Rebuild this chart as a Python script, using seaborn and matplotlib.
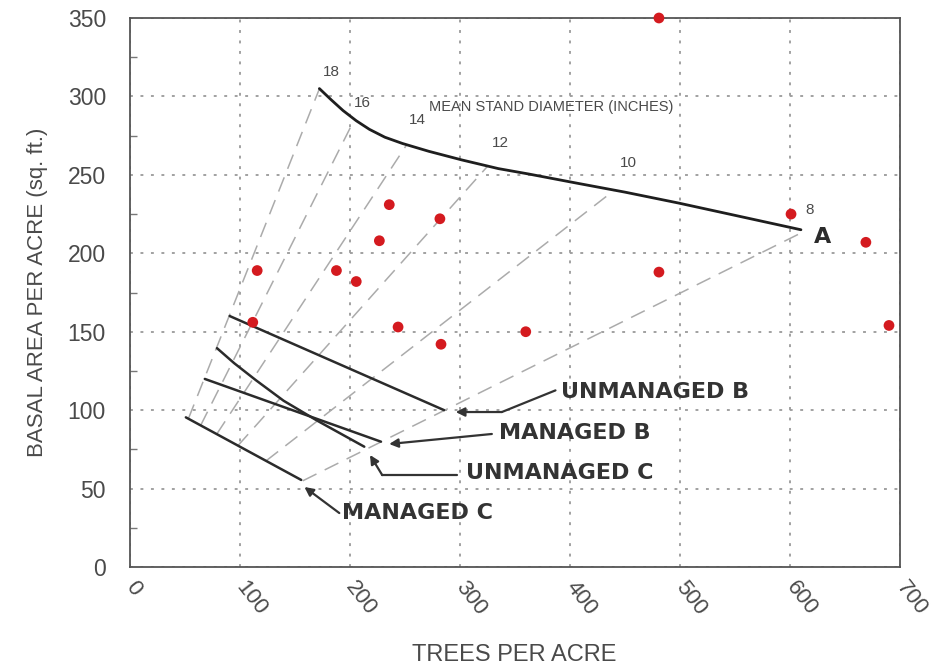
import numpy as np
import pandas as pd
import matplotlib
matplotlib.use("Agg")
import matplotlib.pyplot as plt
import seaborn as sns

# ---------------- data ----------------
# observed stands (trees per acre, basal area per acre)
stand_tpa = [481, 601, 669, 690, 481, 236, 282, 227, 116, 188, 206, 112, 244, 283, 360]
stand_ba = [350, 225, 207, 154, 188, 231, 222, 208, 189, 189, 182, 156, 153, 142, 150]

# curve A (maximum density line)
curveA_tpa = [172.5, 183, 194, 206, 218, 232, 248, 272, 302, 335, 363, 408, 450, 499, 550, 610]
curveA_ba = [305, 298, 291, 284.5, 279, 274, 270, 265, 259.5, 254, 250.5, 244.5, 239, 232, 224.2, 215]

# management trajectories
unmanaged_b_tpa = [91, 285.8]
unmanaged_b_ba = [160, 100]
managed_b_tpa = [68.4, 228.4]
managed_b_ba = [119.9, 79.9]
unmanaged_c_tpa = [79.5, 95, 115, 140, 170, 213.3]
unmanaged_c_ba = [139.5, 130, 119, 106, 93.5, 76.7]
managed_c_tpa = [51.2, 156]
managed_c_ba = [95.4, 55.5]

# mean stand diameter lines (inches)
diameters = [8, 10, 12, 14, 16, 18]
diameter_labels = ["8", "10", "12", "14", "16", "18"]

x_ticks = [0, 100, 200, 300, 400, 500, 600, 700]
y_ticks = [0, 50, 100, 150, 200, 250, 300, 350]

# ---------------- style ----------------
sns.set_theme(style="white")
plt.rcParams["font.family"] = ["Liberation Sans", "DejaVu Sans"]

TXT = "#4a4a4a"
DARK = "#2b2b2b"
RED = "#d41a1f"

fig = plt.figure(figsize=(9.34, 6.68), dpi=100)
fig.patch.set_facecolor("white")
ax = fig.add_axes([129.5 / 934, 1 - 567 / 668, (900 - 129.5) / 934, (567 - 18) / 668])
ax.set_facecolor("white")

ax.set_xlim(0, 700)
ax.set_ylim(0, 350)

# grid
ax.set_xticks(x_ticks)
ax.set_yticks(y_ticks)
ax.grid(True, color="#9a9a9a", linestyle=(0, (1.6, 4.2)), linewidth=1.3)
ax.set_axisbelow(True)
ax.set_yticks(np.arange(0, 351, 25), minor=True)
ax.tick_params(axis="y", which="minor", direction="in", length=5, width=1, color="#777777", left=True)
ax.tick_params(axis="both", which="major", length=0)
ax.tick_params(axis="y", which="major", pad=17, labelsize=16.5, labelcolor=TXT)
ax.tick_params(axis="x", which="major", pad=12, labelsize=16, labelcolor=TXT)
ax.set_xticklabels([str(t) for t in x_ticks], rotation=-52, ha="left", va="center",
                   rotation_mode="anchor")
for s in ax.spines.values():
    s.set_visible(True)
    s.set_color("#555555")
    s.set_linewidth(1.3)

# diameter lines: BA = 0.005454 * D^2 * N, between managed C line and curve A
mc_slope = (managed_c_ba[1] - managed_c_ba[0]) / (managed_c_tpa[1] - managed_c_tpa[0])
grid_x = np.linspace(curveA_tpa[0], curveA_tpa[-1], 4000)
grid_y = np.interp(grid_x, curveA_tpa, curveA_ba)
for d in diameters:
    k = 0.005454 * d ** 2
    x0 = (managed_c_ba[0] - mc_slope * managed_c_tpa[0]) / (k - mc_slope)
    diff = k * grid_x - grid_y
    idx = np.where(diff >= 0)[0]
    x1 = grid_x[idx[0]] if len(idx) else grid_x[-1]
    seg = pd.DataFrame({"tpa": [x0, x1], "ba": [k * x0, k * x1]})
    sns.lineplot(data=seg, x="tpa", y="ba", ax=ax, sort=False, estimator=None,
                 color="#ababab", linewidth=1.1, dashes=False, linestyle=(0, (10, 6)))

# curve A
dfA = pd.DataFrame({"tpa": curveA_tpa, "ba": curveA_ba})
sns.lineplot(data=dfA, x="tpa", y="ba", ax=ax, sort=False, estimator=None,
             color="#1e1e1e", linewidth=2.0)

# trajectories
for tx, ty in [(unmanaged_b_tpa, unmanaged_b_ba), (managed_b_tpa, managed_b_ba),
               (unmanaged_c_tpa, unmanaged_c_ba), (managed_c_tpa, managed_c_ba)]:
    d = pd.DataFrame({"tpa": tx, "ba": ty})
    sns.lineplot(data=d, x="tpa", y="ba", ax=ax, sort=False, estimator=None,
                 color=DARK, linewidth=1.8)

# stands
dfS = pd.DataFrame({"tpa": stand_tpa, "ba": stand_ba})
sns.scatterplot(data=dfS, x="tpa", y="ba", ax=ax, color=RED, s=60, edgecolor="none",
                zorder=5, clip_on=False)

# diameter labels
dlab_pos = {"18": (183, 315.7), "16": (211.8, 295.6), "14": (261.3, 285),
            "12": (337, 270), "10": (453.4, 257.4), "8": (618, 227.6)}
for lab in diameter_labels:
    x, y = dlab_pos[lab]
    ax.text(x, y, lab, fontsize=11, color=TXT, ha="center", va="center")
ax.text(272.2, 293.5, "MEAN STAND DIAMETER (INCHES)", fontsize=10.5, color=TXT,
        ha="left", va="center")
ax.text(630, 210.6, "A", fontsize=16, fontweight="bold", color=DARK, ha="center",
        va="center", family="DejaVu Sans")

# trajectory labels with arrows
bold = dict(fontsize=16, fontweight="bold", color="#333333", ha="left", va="center",
            family="DejaVu Sans")
ax.text(391.6, 111.7, "UNMANAGED B", **bold)
ax.text(335.6, 85.4, "MANAGED B", **bold)
ax.text(305.4, 59.9, "UNMANAGED C", **bold)
ax.text(193.3, 34.4, "MANAGED C", **bold)

arrow_paths = [
    [(387, 112.6), (338.3, 98.8), (296.4, 98.8)],
    [(329.2, 84.8), (235.9, 78.4)],
    [(297.6, 58.6), (229.6, 58.6), (218.5, 71.4)],
    [(190.6, 34.4), (158.9, 51)],
]
for path in arrow_paths:
    xs = [p[0] for p in path[:-1]]
    ys = [p[1] for p in path[:-1]]
    if len(xs) > 1:
        ax.plot(xs, ys, color="#333333", linewidth=1.6)
    ax.annotate("", xy=path[-1], xytext=path[-2],
                arrowprops=dict(arrowstyle="-|>", color="#333333", lw=1.6,
                                mutation_scale=13, shrinkA=0, shrinkB=0))

ax.set_xlabel("TREES PER ACRE", fontsize=17, color=TXT, labelpad=18)
ax.set_ylabel("BASAL AREA PER ACRE (sq. ft.)", fontsize=16, color=TXT, labelpad=14)

fig.savefig("out.png", dpi=100, facecolor="white")
